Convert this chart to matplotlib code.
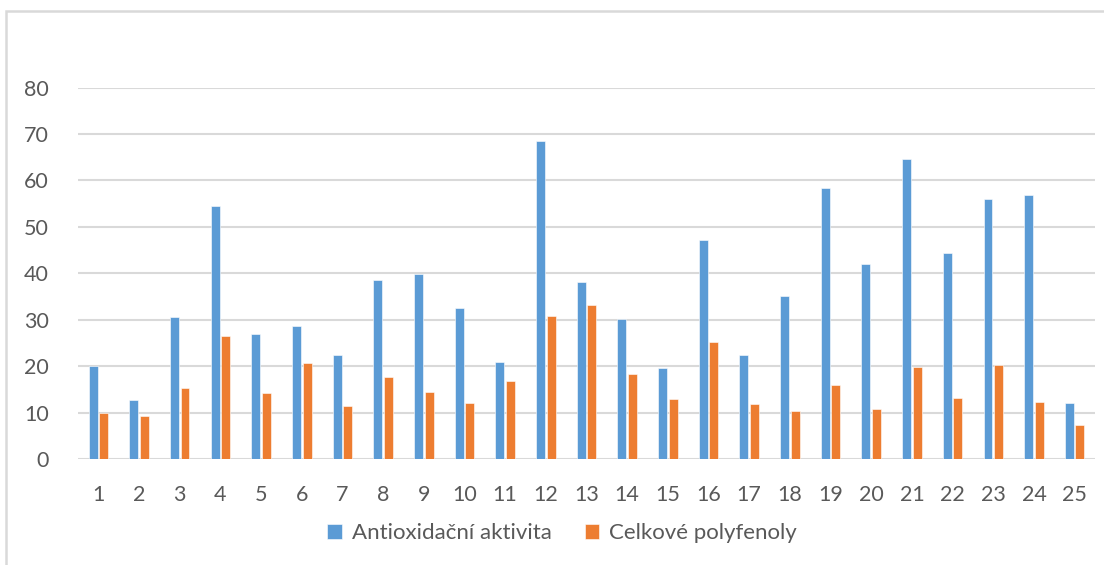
import matplotlib.pyplot as plt
import matplotlib.patches as mpatches
import numpy as np

categories = [str(i) for i in range(1, 26)]
antioxidacni = [20.0, 12.7, 30.5, 54.4, 26.9, 28.6, 22.4, 38.5, 39.8, 32.5,
                20.9, 68.4, 38.1, 30.1, 19.6, 47.1, 22.4, 35.1, 58.3, 41.9,
                64.5, 44.3, 55.9, 56.8, 12.0]
polyfenoly = [9.9, 9.2, 15.3, 26.5, 14.2, 20.6, 11.4, 17.6, 14.4, 12.0,
              16.8, 30.8, 33.1, 18.3, 12.9, 25.2, 11.8, 10.3, 15.9, 10.8,
              19.8, 13.1, 20.2, 12.3, 7.3]

BLUE = "#5B9BD5"
ORANGE = "#ED7D31"
GRID = "#D9D9D9"
TEXT = "#595959"

plt.rcParams["font.family"] = ["Lato", "DejaVu Sans"]

fig = plt.figure(figsize=(11.04, 5.65), dpi=100)
ax = fig.add_axes([78 / 1104, 1 - 459 / 565, (1095 - 78) / 1104, (459 - 87.5) / 565])

x = np.arange(len(categories))
w = 0.22
ax.bar(x - 0.13, antioxidacni, w, color=BLUE, edgecolor="white", linewidth=0.4,
       label="Antioxidační aktivita", zorder=3)
ax.bar(x + 0.13, polyfenoly, w, color=ORANGE, edgecolor="white", linewidth=0.4,
       label="Celkové polyfenoly", zorder=3)

ax.set_xlim(-0.5, len(categories) - 0.5)
ax.set_ylim(0, 80)
ax.set_yticks(range(0, 81, 10))
ax.set_xticks(x)
ax.set_xticklabels(categories)
ax.yaxis.grid(True, color=GRID, linewidth=1.5, zorder=0)
ax.set_axisbelow(True)
for s in ax.spines.values():
    s.set_visible(False)
ax.tick_params(length=0, labelsize=15.5, labelcolor=TEXT)
ax.tick_params(axis="x", pad=19)
ax.tick_params(axis="y", pad=21)

leg = fig.legend(loc="center", bbox_to_anchor=(562 / 1104, 1 - 533 / 565), ncol=2,
                 frameon=False, fontsize=16, handlelength=0.65, handleheight=0.65,
                 handletextpad=0.45, columnspacing=1.5)
for t in leg.get_texts():
    t.set_color(TEXT)

# outer chart frame (cropped at right and bottom)
fig.patches.append(mpatches.Rectangle((6 / 1104, -0.1), 1.2, 1 - 11 / 565 + 0.1,
                                      transform=fig.transFigure, fill=False,
                                      edgecolor=GRID, linewidth=1.8))

fig.savefig("out.png", dpi=100)
